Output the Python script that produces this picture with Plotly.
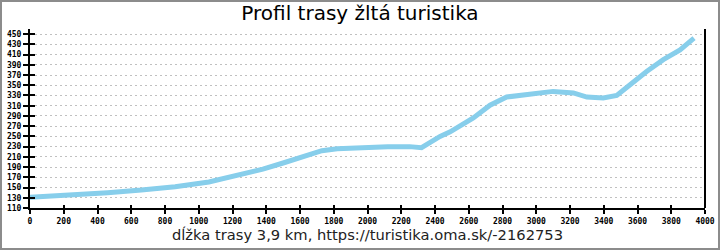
import plotly.graph_objects as go

# distance along route (m) and elevation (m)
dist = [0, 100, 270, 460, 660, 860, 1060, 1250, 1380, 1500, 1660, 1700, 1730,
        1820, 1940, 2120, 2250, 2320, 2430, 2490, 2627, 2726, 2825, 2963, 3100,
        3220, 3300, 3397, 3477, 3556, 3654, 3753, 3852, 3935]
elev = [131, 133, 134.5, 140, 145, 151.5, 161, 176, 186, 198, 215, 218, 222,
        226, 228, 230, 230, 228, 250, 259, 286, 311, 327, 333, 338,
        335, 327, 325, 330, 351, 377, 400, 419, 442]

x_ticks = list(range(0, 4001, 200))
y_ticks = list(range(110, 451, 20))

title_text = "Profil trasy žltá turistika"
xlabel_text = "dĺžka trasy 3,9 km, https://turistika.oma.sk/-2162753"

W, H = 720, 250
ML, MR, MT, MB = 30, 15, 29, 42
PW, PH = W - ML - MR, H - MT - MB

fig = go.Figure()
fig.add_trace(go.Scatter(x=dist, y=elev, mode="lines",
                         line=dict(color="#87CEEB", width=5),
                         hoverinfo="skip", showlegend=False))
# helper trace for overlay axes (inside tick halves)
fig.add_trace(go.Scatter(x=[0], y=[110], xaxis="x2", yaxis="y2", mode="markers",
                         marker=dict(opacity=0), hoverinfo="skip", showlegend=False))

tickfont = dict(family="DejaVu Sans Mono", size=8, color="#000000", weight="bold")

fig.update_layout(
    width=W, height=H,
    margin=dict(l=ML, r=MR, t=MT, b=MB, pad=0, autoexpand=False),
    paper_bgcolor="white", plot_bgcolor="white",
    title=dict(text=title_text, x=0.5, xanchor="center", y=1 - 13 / H, yanchor="middle",
               font=dict(family="DejaVu Sans", size=20, color="#000000"), automargin=False),
    xaxis=dict(range=[0, 4000], tickvals=x_ticks, ticktext=[str(v) for v in x_ticks],
               ticks="outside", ticklen=4, tickwidth=2, tickcolor="black",
               showline=True, linecolor="black", linewidth=2, automargin=False,
               showgrid=False, zeroline=False, tickfont=tickfont,
               title=dict(text=xlabel_text, standoff=4,
                          font=dict(family="DejaVu Sans", size=14.7, color="#222222"))),
    yaxis=dict(range=[110, 460], tickvals=y_ticks, ticktext=[str(v) for v in y_ticks],
               ticks="outside", ticklen=5, tickwidth=2, tickcolor="black",
               showline=True, linecolor="black", linewidth=2, automargin=False,
               showgrid=True, gridcolor="#c0c0c0", gridwidth=1, griddash="2px,3px",
               zeroline=False, tickfont=tickfont),
    xaxis2=dict(range=[0, 4000], overlaying="x", anchor="y", side="bottom",
                tickvals=x_ticks, ticks="inside", ticklen=3, tickwidth=2, tickcolor="black",
                showticklabels=False, showgrid=False, zeroline=False, showline=False,
                automargin=False),
    yaxis2=dict(range=[110, 460], overlaying="y", anchor="x", side="left",
                tickvals=y_ticks, ticks="inside", ticklen=5, tickwidth=2, tickcolor="black",
                showticklabels=False, showgrid=False, zeroline=False, showline=False,
                automargin=False),
    shapes=[
        dict(type="line", xref="paper", yref="paper", x0=1, x1=1, y0=0, y1=1,
             line=dict(color="black", width=2)),
        dict(type="rect", xref="paper", yref="paper",
             x0=(-ML + 1) / PW, x1=1 + (MR - 1) / PW,
             y0=(-MB + 1) / PH, y1=1 + (MT - 1) / PH,
             line=dict(color="#8c8c8c", width=2), fillcolor="rgba(0,0,0,0)"),
    ],
)

fig.write_html("out.html")
